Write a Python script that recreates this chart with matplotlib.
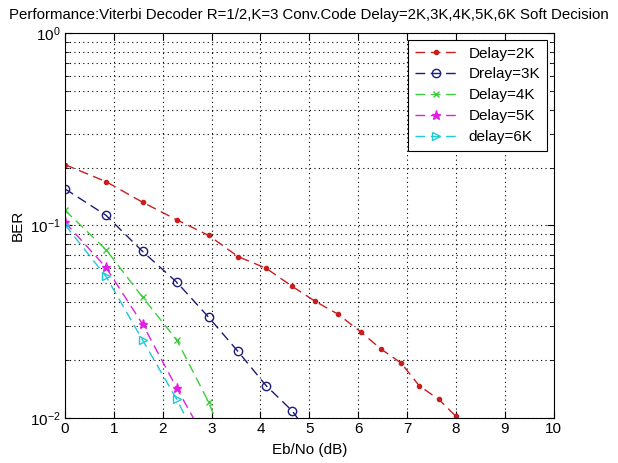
import matplotlib
matplotlib.use("Agg")
import matplotlib.pyplot as plt
from matplotlib.ticker import LogLocator, NullFormatter, FixedLocator

plt.rcParams['font.family'] = ['Liberation Sans', 'DejaVu Sans']

ebno = [0, 0.84, 1.59, 2.29, 2.94, 3.54, 4.12, 4.65, 5.12, 5.59, 6.06, 6.47, 6.88, 7.25, 7.65, 8.0]

ber_2k = [0.207, 0.169, 0.132, 0.107, 0.0888, 0.069, 0.0599, 0.0483, 0.0404, 0.0346,
          0.0279, 0.0228, 0.0193, 0.0147, 0.0125, 0.0102]
ber_3k = [0.155, 0.113, 0.0733, 0.0507, 0.0334, 0.0222, 0.0147, 0.0109, 0.0075]
ber_4k = [0.120, 0.075, 0.0424, 0.0254, 0.0121, 0.005]
ber_5k = [0.104, 0.0606, 0.0307, 0.0143, 0.0072]
ber_6k = [0.101, 0.0544, 0.0254, 0.0125, 0.0058]

labels = ['Delay=2K', 'Drelay=3K', 'Delay=4K', 'Delay=5K', 'delay=6K']
colors = ['#c81e1e', '#1c1c7a', '#3ccc3c', '#e020e0', '#20c8d8']
markers = ['.', 'o', 'x', '*', '>']
msizes = [6, 6, 4.5, 6.5, 6]
series = [ber_2k, ber_3k, ber_4k, ber_5k, ber_6k]

fig = plt.figure(figsize=(6.18, 4.63), dpi=100)
ax = fig.add_axes([0.105, 0.097, 0.791, 0.832])

for s, lab, c, m, ms in zip(series, labels, colors, markers, msizes):
    mfc = c if m in ('.', '*', 'x') else 'none'
    ax.semilogy(ebno[:len(s)], s, linestyle=(0, (7, 4)), color=c, marker=m,
                markersize=ms, markerfacecolor=mfc, markeredgewidth=1.0,
                markeredgecolor=c, linewidth=1.0, label=lab)

ax.set_xlim(0, 10)
ax.set_ylim(1e-2, 1)
ax.xaxis.set_major_locator(FixedLocator(range(0, 11)))
ax.yaxis.set_major_locator(LogLocator(base=10, numticks=5))
ax.yaxis.set_minor_locator(LogLocator(base=10, subs=range(2, 10), numticks=20))
ax.yaxis.set_minor_formatter(NullFormatter())
ax.grid(True, which='major', linestyle=(0, (1, 3)), color='black', linewidth=0.8)
ax.grid(True, which='minor', axis='y', linestyle=(0, (1, 3)), color='black', linewidth=0.8)
ax.tick_params(which='both', direction='in', top=True, right=True, labelsize=11)
ax.tick_params(which='major', length=5, pad=3)
ax.tick_params(which='minor', length=3)

ax.set_xlabel('Eb/No (dB)', fontsize=11, labelpad=5)
ax.set_ylabel('BER', fontsize=11, labelpad=4)
ax.set_title('Performance:Viterbi Decoder R=1/2,K=3 Conv.Code Delay=2K,3K,4K,5K,6K Soft Decision',
             fontsize=10.8, pad=10)

leg = ax.legend(loc='upper right', fontsize=11, frameon=True, fancybox=False,
                edgecolor='black', framealpha=1, handlelength=2.7,
                borderaxespad=0.45, labelspacing=0.45, borderpad=0.45)
leg.get_frame().set_linewidth(0.8)

fig.savefig('out.png', dpi=100)
